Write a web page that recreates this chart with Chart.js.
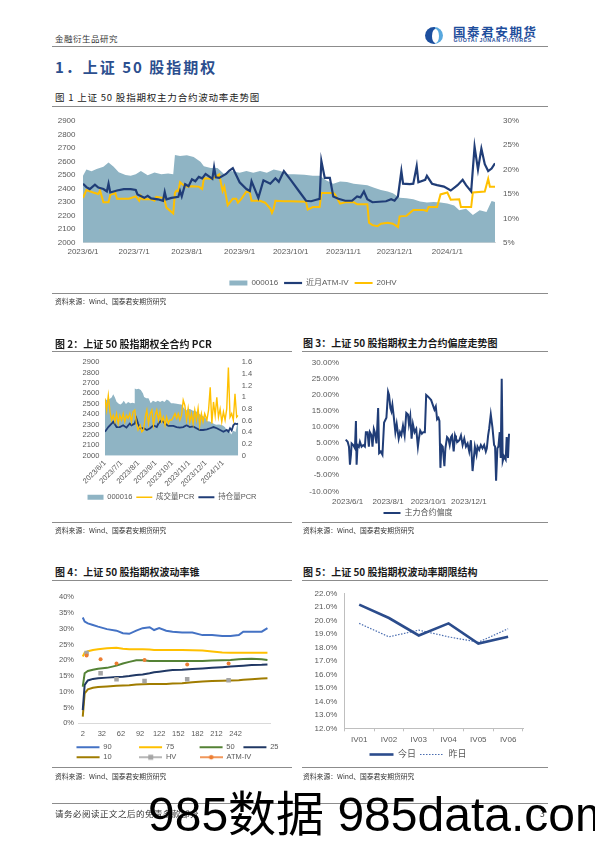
<!DOCTYPE html>
<html lang="zh-CN">
<head>
<meta charset="utf-8">
<title>上证50股指期权</title>
<script src="https://cdn.jsdelivr.net/npm/chart.js@4.4.1/dist/chart.umd.min.js"></script>
<style>
  html, body { margin: 0; padding: 0; background: #fff; }
  body { width: 595px; height: 842px; position: relative; overflow: hidden; font-family: "Noto Sans CJK SC", "Liberation Sans", sans-serif; color: #222; }
  .t { position: absolute; white-space: nowrap; line-height: 1; }
  .rule { position: absolute; height: 0; border-top: 1.4px solid #8c8c8c; }
  .cap { font-size: 10px; font-weight: 700; color: #1a1a1a; }
  .src { font-size: 6.8px; color: #333; }
  canvas { position: absolute; }
  .ic { position: absolute; left: 425px; top: 27px; width: 18px; height: 17px; border-radius: 50%; overflow: hidden;
        background: linear-gradient(90deg, #1d4f9e 0 55%, #58a8de 55% 100%); }
  .ic::after { content: ''; position: absolute; left: 6.5px; top: 1.5px; width: 7px; height: 14px; border-radius: 50%; background: #fff; }
</style>
</head>
<body>

<!-- page header -->
<div class="t" style="left:55px;top:33.7px;font-size:8.5px;color:#333;letter-spacing:.5px">金融衍生品研究</div>
<div class="ic"></div>
<div class="t" style="left:453px;top:25.5px;font-size:12.5px;font-weight:700;color:#1f4e9c;letter-spacing:1.6px">国泰君安期货</div>
<div class="t" style="left:453.5px;top:37.5px;font-size:5.3px;font-weight:700;color:#1f4e9c;letter-spacing:.6px;font-family:'Liberation Sans'">GUOTAI JUNAN FUTURES</div>
<div class="rule" style="left:52px;top:46px;width:496px"></div>
<div class="t" style="left:55px;top:58.5px;font-size:15px;font-weight:700;color:#2c4f8f;letter-spacing:2px">1．上证 50 股指期权</div>

<!-- figure 1 -->
<div class="t" style="left:55px;top:93.2px;font-size:9.5px;letter-spacing:.8px">图 1 上证 50 股指期权主力合约波动率走势图</div>
<div class="rule" style="left:52px;top:105.5px;width:496px"></div>
<canvas id="c1" width="522" height="189" style="left:52px;top:108px"></canvas>
<div class="rule" style="left:52px;top:292.5px;width:496px"></div>
<div class="t src" style="left:55px;top:297.6px">资料来源：Wind、国泰君安期货研究</div>

<!-- figures 2 and 3 -->
<div class="t cap" style="left:55px;top:339px">图 2：上证 50 股指期权全合约 PCR</div>
<div class="t cap" style="left:303px;top:338px">图 3：上证 50 股指期权主力合约偏度走势图</div>
<div class="rule" style="left:52px;top:350.5px;width:240px"></div>
<div class="rule" style="left:302px;top:350.5px;width:246px"></div>
<canvas id="c2" width="240" height="159" style="left:52px;top:352px"></canvas>
<canvas id="c3" width="246" height="175" style="left:302px;top:352px"></canvas>
<div class="rule" style="left:52px;top:521.5px;width:240px"></div>
<div class="rule" style="left:302px;top:521.5px;width:246px"></div>
<div class="t src" style="left:55px;top:526.6px">资料来源：Wind、国泰君安期货研究</div>
<div class="t src" style="left:303px;top:526.6px">资料来源：Wind、国泰君安期货研究</div>

<!-- figures 4 and 5 -->
<div class="t cap" style="left:55px;top:567px">图 4：上证 50 股指期权波动率锥</div>
<div class="t cap" style="left:303px;top:567px">图 5：上证 50 股指期权波动率期限结构</div>
<div class="rule" style="left:52px;top:580px;width:240px"></div>
<div class="rule" style="left:302px;top:580px;width:246px"></div>
<canvas id="c4" width="251" height="189" style="left:52px;top:582px"></canvas>
<canvas id="c5" width="246" height="187" style="left:302px;top:582px"></canvas>
<div class="rule" style="left:52px;top:766.5px;width:240px"></div>
<div class="rule" style="left:302px;top:766.5px;width:246px"></div>
<div class="t src" style="left:55px;top:772.6px">资料来源：Wind、国泰君安期货研究</div>
<div class="t src" style="left:303px;top:772.6px">资料来源：Wind、国泰君安期货研究</div>

<!-- footer -->
<div class="rule" style="left:52px;top:802.5px;width:496px"></div>
<div class="t" style="left:55px;top:808.5px;font-size:8.5px;color:#333;letter-spacing:.5px">请务必阅读正文之后的免责条款部分</div>
<div class="t" style="left:540px;top:808.5px;font-size:8.5px;color:#333">3</div>
<div class="t" style="left:148px;top:791px;font-size:48px;color:#000;font-family:'Liberation Sans','Noto Sans CJK SC',sans-serif">985数据 985data.com</div>

<script>
// day offsets are counted from 2023-06-01
const monthDays = [0, 30, 61, 92, 122, 153, 183, 214];
const monthLabels = ['2023/6/1', '2023/7/1', '2023/8/1', '2023/9/1', '2023/10/1', '2023/11/1', '2023/12/1', '2024/1/1'];

// 000016 index (fig 1 and fig 2)
const idxDays = [0, 2, 5, 8, 12, 15, 18, 21, 25, 28, 31, 34, 38, 42, 46, 50, 53, 54, 57, 61, 65, 69, 71, 75, 79, 83, 87, 92, 96, 100,
  104, 108, 112, 116, 120, 124, 130, 135, 139, 143, 147, 151, 155, 159, 163, 167, 171, 175, 179, 182, 186, 190, 194, 198, 202, 206,
  210, 214, 218, 221, 225, 229, 233, 237, 240, 242];
const idxVals = [2494, 2540, 2528, 2545, 2560, 2592, 2560, 2520, 2500, 2494, 2506, 2530, 2498, 2518, 2506, 2510, 2505, 2648, 2640, 2645,
  2632, 2598, 2564, 2552, 2552, 2506, 2529, 2517, 2529, 2517, 2529, 2517, 2540, 2529, 2506, 2506, 2501, 2495, 2494, 2460,
  2436, 2452, 2448, 2436, 2430, 2424, 2405, 2390, 2378, 2366, 2332, 2328, 2320, 2305, 2297, 2300, 2297, 2290, 2274, 2239,
  2250, 2204, 2239, 2227, 2308, 2301];

// near-month ATM implied vol (%)
const ivDays = [0, 2, 4, 7, 9, 12, 14, 15, 16, 20, 24, 28, 31, 32, 36, 38, 40, 44, 47, 48, 49, 52, 56, 57, 58, 60, 62, 64, 66, 68,
  70, 72, 74, 76, 77, 78, 80, 84, 86, 88, 92, 96, 98, 99, 103, 106, 110, 113, 115, 118, 122, 127, 131, 134, 137, 139, 140, 142, 145, 147,
  150, 154, 158, 161, 163, 165, 167, 170, 174, 178, 181, 183, 185, 187, 188, 192, 194, 196, 197, 201, 202, 205, 208, 212, 216, 220,
  223, 225, 228, 230, 232, 234, 236, 238, 240, 242];
const ivVals = [17.1, 16.4, 16.0, 16.9, 16.3, 16.0, 15.5, 17.1, 15.3, 15.7, 16.0, 16.0, 15.8, 14.9, 14.2, 14.6, 14.1, 13.9, 13.6, 15.4,
  13.9, 14.2, 14.4, 15.6, 14.5, 17.0, 16.6, 18.0, 17.6, 18.5, 18.2, 19.1, 18.6, 18.1, 20.5, 18.4, 18.3, 19.1, 19.8, 20.3,
  17.4, 16.0, 15.6, 17.6, 14.2, 17.8, 17.1, 18.2, 17.5, 19.7, 17.9, 15.5, 13.6, 13.5, 13.8, 14.0, 21.8, 18.3, 18.3, 14.5,
  14.0, 13.6, 13.6, 14.5, 14.3, 15.5, 13.9, 13.3, 13.4, 13.5, 13.9, 13.6, 14.5, 19.7, 17.1, 17.0, 17.1, 20.7, 17.4, 17.9,
  18.7, 17.1, 16.8, 16.5, 15.7, 16.8, 17.9, 16.8, 15.5, 24.7, 20.0, 24.3, 21.1, 19.7, 20.2, 21.3];

// 20-day historical vol (%)
const hvDays = [0, 2, 6, 9, 10, 11, 12, 15, 16, 19, 20, 27, 31, 33, 34, 35, 40, 42, 43, 47, 48, 49, 52, 53, 54, 55, 56, 57, 59, 61,
  64, 68, 70, 71, 75, 77, 80, 82, 83, 85, 88, 90, 91, 93, 96, 98, 99, 104, 107, 110, 111, 112, 113, 118, 122, 131, 132, 135, 139, 140,
  147, 148, 151, 154, 159, 161, 167, 168, 170, 173, 175, 179, 182, 185, 186, 190, 194, 200, 202, 203, 208, 210, 214, 216, 221, 222,
  228, 229, 236, 238, 239, 242];
const hvVals = [14.2, 15.8, 15.3, 15.0, 15.7, 14.5, 13.3, 13.3, 14.8, 15.2, 14.0, 14.0, 14.5, 13.6, 14.6, 13.9, 13.9, 13.6, 14.4, 14.2,
  13.6, 12.2, 11.3, 11.0, 15.2, 15.7, 15.5, 17.4, 16.8, 16.5, 16.6, 16.5, 16.0, 18.2, 18.1, 18.3, 19.0, 15.6, 16.5, 12.7,
  14.0, 14.0, 13.2, 14.0, 15.5, 15.3, 13.6, 13.6, 13.2, 12.0, 11.1, 11.9, 13.6, 13.5, 13.5, 13.4, 11.8, 12.3, 12.3, 15.2,
  15.2, 14.9, 13.0, 13.3, 13.3, 12.9, 12.9, 9.1, 8.6, 8.4, 8.9, 9.1, 8.9, 8.2, 10.4, 10.5, 11.7, 11.7, 11.5, 12.3,
  12.3, 14.9, 15.3, 13.8, 13.9, 12.3, 12.3, 15.3, 15.5, 18.1, 16.5, 16.5];

// put/call ratios (fig 2)
const pcrVolDays = [0, 3, 6, 9, 12, 15, 18, 21, 24, 27, 30, 33, 36, 39, 42, 45, 48, 51, 54, 57, 60, 64, 67, 70, 73, 76, 79, 82, 85, 88,
  91, 94, 97, 100, 103, 106, 109, 112, 115, 118, 121, 124, 127, 130, 133, 136, 139, 142, 145, 148, 151, 154, 157, 160, 163, 166, 169,
  172, 175, 178, 181, 185, 188, 191, 194, 197, 200, 203, 206, 209, 212, 215, 218, 221, 224, 227, 230, 233, 236, 239, 242];
const pcrVolVals = [0.98, 0.78, 1.03, 0.75, 0.61, 0.69, 0.58, 0.72, 0.55, 0.69, 0.61, 0.72, 0.58, 0.69, 0.64, 0.72, 0.58, 0.75, 0.78, 0.55,
  0.44, 0.52, 0.41, 0.44, 0.66, 0.78, 0.55, 0.72, 0.78, 0.52, 0.69, 0.78, 0.61, 0.75, 0.58, 0.66, 0.52, 0.66, 0.55, 0.61,
  0.61, 0.66, 0.72, 0.64, 0.72, 0.61, 0.69, 0.95, 0.86, 0.61, 0.81, 0.58, 0.72, 0.55, 0.78, 0.61, 0.81, 0.52, 0.72, 0.58,
  0.72, 0.61, 0.78, 1.17, 0.55, 0.92, 0.69, 1.00, 0.66, 0.80, 0.58, 0.75, 0.61, 0.80, 1.51, 0.66, 0.72, 0.61, 1.06, 0.66, 0.69];
const pcrOiDays = [0, 6, 12, 15, 21, 27, 33, 39, 45, 48, 54, 57, 60, 64, 70, 76, 82, 88, 94, 97, 103, 109, 115, 124, 130, 136, 142, 148,
  154, 160, 166, 172, 178, 185, 191, 197, 203, 209, 215, 221, 224, 227, 230, 233, 236, 239, 242];
const pcrOiVals = [0.41, 0.49, 0.55, 0.58, 0.49, 0.49, 0.52, 0.48, 0.55, 0.52, 0.55, 0.64, 0.55, 0.47, 0.47, 0.44, 0.47, 0.52, 0.49, 0.55,
  0.61, 0.55, 0.51, 0.51, 0.49, 0.48, 0.49, 0.52, 0.49, 0.50, 0.47, 0.44, 0.44, 0.45, 0.47, 0.49, 0.47, 0.44, 0.41, 0.44,
  0.41, 0.47, 0.43, 0.52, 0.55, 0.54, 0.55];

// main contract skew (fig 3, %)
const skewTickDays = [0, 61, 122, 183];
const skewTickLabels = ['2023/6/1', '2023/8/1', '2023/10/1', '2023/12/1'];
const skewDays = [-3, 0, 2, 3.5, 5, 6, 8.5, 11, 12.5, 13.5, 15, 17, 18.5, 21, 23.5, 26, 27.5, 30, 32, 33.5, 36, 37.5, 39.5, 41, 43.5,
  46, 47.5, 50, 52.5, 55, 58.5, 61, 62.5, 64.5, 66, 67.5, 69.5, 72, 74, 77, 79, 81, 83.5, 86, 88.5, 91, 92.5, 94.5, 96.5, 98.5,
  101, 103.5, 106, 107.5, 109.5, 112, 114, 116.5, 118.5, 121, 123.5, 126, 128.5, 131, 133, 135, 137, 138.5, 140, 141.5,
  143.5, 146, 147.5, 150, 152, 154, 156, 157.5, 160, 162, 163.5, 166, 168.5, 171, 173.5, 176, 178.5, 181, 183.5, 186,
  188.5, 190, 192, 194.5, 196, 198.5, 201, 203.5, 206, 208.5, 210, 212, 213.5, 216, 218.5, 221, 222.5, 224, 226, 227.5,
  229.5, 231, 232.5, 234, 236, 238.5, 240, 242, 243.5];
const skewVals = [6.1, 5.4, 3.9, -1.7, 1.4, 4.9, 4.4, 3.4, 11.9, -1.7, 4.4, 3.9, 5.4, 3.9, 4.4, 3.9, 8.4, 8.4, 3.9, 8.4,
  7.4, 3.9, 9.4, 8.4, 4.9, 15.9, 1.9, 2.4, 1.4, 11.4, 12.9, 21.0, 20.0, 15.9, 14.9, 16.9, 13.4, 8.4, 11.0, 6.4,
  8.4, 7.4, 10.4, 7.4, 14.4, 13.9, 10.9, 13.4, 6.4, 10.9, 8.4, 9.4, 3.9, 6.4, 8.9, 7.9, 8.4, 8.4, 20.0, 19.5,
  19.0, 18.4, 16.9, 15.4, 16.4, 12.4, 12.9, 11.9, -2.7, 4.4, 3.9, -2.2, 3.4, 6.9, 6.4, 4.4, 6.9, 7.4, 2.4, 7.4,
  6.4, 5.4, 5.9, 7.4, 4.4, 6.4, 3.9, 4.9, 2.4, 5.9, -3.7, -0.6, 3.9, 1.4, 3.9, 2.9, 4.4, 3.4, 4.4, 2.4,
  3.4, 7.4, 9.4, 13.9, 9.9, 4.4, 3.9, -6.7, 3.4, 3.9, 8.4, 0.4, 25.0, -0.6, 0.9, -0.1, 6.9, 0.4, 7.9];

// volatility cone (fig 4, %), x = trading days to expiry
const coneTicks = [2, 32, 62, 92, 122, 152, 182, 212, 242];
const coneX = [2, 5, 10, 18, 26, 40, 55, 65, 75, 86, 96, 107, 114, 122, 133, 143, 158, 174, 190, 205, 221, 234, 247, 254, 267, 283, 292];
const cone90 = [33.6, 32.3, 31.7, 31.2, 30.7, 29.9, 29.4, 28.6, 28.4, 29.4, 30.2, 30.5, 29.6, 30.2, 29.4, 29.1, 28.8, 28.8, 28.0, 28.0, 27.7, 27.7, 28.0, 29.1, 29.1, 29.1, 30.2];
const cone75 = [21.2, 22.4, 22.9, 23.3, 23.5, 23.8, 24.0, 23.7, 23.5, 23.5, 23.5, 23.4, 23.3, 23.3, 23.3, 23.3, 23.3, 23.2, 23.1, 22.8, 22.5, 22.4, 22.4, 22.4, 22.4, 22.4, 22.4];
const cone50 = [11.6, 15.9, 16.6, 17.0, 17.3, 17.6, 18.3, 19.0, 19.5, 20.0, 20.0, 19.8, 19.8, 19.8, 19.8, 19.8, 19.8, 19.8, 19.8, 19.9, 20.0, 20.1, 20.3, 20.4, 20.5, 20.3, 20.1];
const cone25 = [4.2, 12.2, 13.6, 14.1, 14.3, 14.5, 14.7, 14.8, 15.0, 15.3, 15.5, 15.9, 16.2, 16.4, 16.7, 16.9, 17.0, 17.2, 17.4, 17.6, 17.8, 18.0, 18.2, 18.3, 18.5, 18.6, 18.7];
const cone10 = [2.1, 9.5, 10.8, 11.3, 11.5, 11.7, 11.9, 12.0, 12.1, 12.3, 12.4, 12.5, 12.5, 12.5, 12.5, 12.6, 12.7, 13.0, 13.3, 13.4, 13.5, 13.6, 13.7, 13.8, 14.0, 14.2, 14.3];
const coneObsX = [8, 30, 55, 99, 166, 231];
const coneHV = [22.3, 15.9, 14.0, 13.4, 14.0, 13.7];
const coneATM = [21.5, 20.3, 19.0, 20.1, 18.7, 19.0];

// term structure (fig 5, %)
const termLabels = ['IV01', 'IV02', 'IV03', 'IV04', 'IV05', 'IV06'];
const termToday = [21.2, 20.2, 18.9, 19.8, 18.3, 18.8];
const termYday = [19.8, 18.8, 19.3, 18.8, 18.4, 19.4];

Chart.defaults.font.family = "'Liberation Sans', 'Noto Sans CJK SC', sans-serif";
Chart.defaults.font.size = 8;
Chart.defaults.color = '#595959';
Chart.defaults.animation = false;
Chart.defaults.responsive = false;
Chart.defaults.plugins.tooltip.enabled = false;
Chart.defaults.elements.point.radius = 0;
Chart.defaults.elements.line.tension = 0;

const NAVY = '#203d77';
const GOLD = '#ffc000';
const AREA = '#8fb4c4';

const pts = (xs, ys) => xs.map((x, i) => ({ x: x, y: ys[i] }));
const setW = w => s => { s.width = w; };
const setH = h => s => { s.height = h; };
const off = { display: false, drawTicks: false };
const plain = v => String(v);
const fixedTicks = vals => s => { s.ticks = vals.map(v => ({ value: v })); };
const hiddenAxis = w => ({ position: 'right', display: true, ticks: { display: false }, grid: off, border: { display: false }, afterFit: setW(w) });

// legend icon: short line with a marker in the middle
function icon(color, shape) {
  const c = document.createElement('canvas');
  c.width = 23; c.height = 8;
  const g = c.getContext('2d');
  g.strokeStyle = color; g.lineWidth = 1.6;
  g.beginPath(); g.moveTo(0, 4); g.lineTo(23, 4); g.stroke();
  g.fillStyle = color;
  if (shape === 'rect') g.fillRect(9, 1.5, 5, 5);
  else { g.beginPath(); g.arc(11.5, 4, 2.3, 0, Math.PI * 2); g.fill(); }
  return c;
}

function legendItems(ch) {
  return Chart.defaults.plugins.legend.labels.generateLabels(ch).map(l => {
    const ds = ch.data.datasets[l.datasetIndex];
    if (!ds.fill) { l.lineWidth = ds.borderWidth; l.strokeStyle = ds.borderColor; }
    l.lineDash = ds.borderDash || [];
    if (ds.legendText) l.text = ds.legendText;
    if (ds.legendIcon) l.pointStyle = ds.legendIcon;
    l.fontColor = '#595959';
    return l;
  }).sort((a, b) => a.datasetIndex - b.datasetIndex);
}

const legendOpts = (size, pad, w) => ({
  position: 'bottom',
  labels: { usePointStyle: true, pointStyleWidth: w, boxHeight: 5, padding: pad, font: { size: size }, generateLabels: legendItems }
});

// fig 1 (canvas runs past the page margin so the legend centre sits where the original has it)
new Chart(document.getElementById('c1'), {
  type: 'line',
  data: {
    datasets: [
      { label: '000016', data: pts(idxDays, idxVals), yAxisID: 'y', fill: 'start', backgroundColor: AREA, borderColor: 'rgba(0,0,0,0)', borderWidth: 0, pointStyle: 'rect' },
      { label: '近月ATM-IV', data: pts(ivDays, ivVals), yAxisID: 'y1', borderColor: NAVY, borderWidth: 2.2, pointStyle: 'line' },
      { label: '20HV', data: pts(hvDays, hvVals), yAxisID: 'y1', borderColor: GOLD, borderWidth: 2, pointStyle: 'line' }
    ]
  },
  options: {
    responsive: false,
    layout: { padding: { top: 5.3 } },
    scales: {
      x: { type: 'linear', min: 0, max: 242, afterBuildTicks: fixedTicks(monthDays),
           ticks: { callback: (v, i) => monthLabels[i], maxRotation: 0, autoSkip: false, padding: 4 },
           grid: off, border: { color: '#d9d9d9' }, afterFit: setH(30.3) },
      y: { min: 2000, max: 2900, ticks: { stepSize: 100, padding: 7.5, autoSkip: false, callback: plain }, grid: off, border: { display: false }, afterFit: setW(31) },
      y1: { position: 'right', min: 5, max: 30, ticks: { stepSize: 5, padding: 8, autoSkip: false, callback: v => v + '%' },
            grid: off, border: { display: false }, afterFit: setW(79) }
    },
    plugins: { legend: legendOpts(8, 6, 18), filler: { drawTime: 'beforeDatasetsDraw' } }
  }
});

// fig 2
new Chart(document.getElementById('c2'), {
  type: 'line',
  data: {
    datasets: [
      { label: '000016', data: pts(idxDays, idxVals), yAxisID: 'y', fill: 'start', backgroundColor: AREA, borderColor: 'rgba(0,0,0,0)', borderWidth: 0, pointStyle: 'rect' },
      { label: '成交量PCR', data: pts(pcrVolDays, pcrVolVals), yAxisID: 'y1', borderColor: GOLD, borderWidth: 1.4, pointStyle: 'line' },
      { label: '持仓量PCR', data: pts(pcrOiDays, pcrOiVals), yAxisID: 'y1', borderColor: NAVY, borderWidth: 1.8, pointStyle: 'line' }
    ]
  },
  options: {
    responsive: false,
    layout: { padding: { top: 9.7 } },
    scales: {
      x: { type: 'linear', min: 0, max: 242, afterBuildTicks: fixedTicks(monthDays),
           ticks: { callback: (v, i) => monthLabels[i], minRotation: 45, maxRotation: 45, autoSkip: false, padding: 3, font: { size: 7.5 } },
           grid: off, border: { display: false }, afterFit: setH(33.8) },
      y: { min: 2000, max: 2900, ticks: { stepSize: 100, padding: 5.7, autoSkip: false, font: { size: 7.5 }, callback: plain },
           grid: off, border: { display: false }, afterFit: setW(53) },
      y1: { position: 'right', min: 0, max: 1.6, ticks: { stepSize: 0.2, padding: 3.4, autoSkip: false, font: { size: 7.5 }, callback: v => String(+v.toFixed(1)) },
            grid: off, border: { display: false }, afterFit: setW(53.7) }
    },
    plugins: { legend: legendOpts(7.5, 4, 16), filler: { drawTime: 'beforeDatasetsDraw' } }
  }
});

// fig 3
new Chart(document.getElementById('c3'), {
  type: 'line',
  data: { datasets: [ { label: '主力合约偏度', data: pts(skewDays, skewVals), borderColor: NAVY, borderWidth: 2, pointStyle: 'line' } ] },
  options: {
    responsive: false,
    layout: { padding: { top: 6.3, right: 14 } },
    scales: {
      x: { type: 'linear', min: -4, max: 245, afterBuildTicks: fixedTicks(skewTickDays),
           ticks: { callback: (v, i) => skewTickLabels[i], maxRotation: 0, autoSkip: false, padding: 6 },
           grid: off, border: { display: false }, afterFit: setH(13.7) },
      y: { min: -10, max: 30, ticks: { stepSize: 5, padding: 6, autoSkip: false, callback: v => v.toFixed(2) + '%' },
           grid: off, border: { display: false }, afterFit: setW(43) },
      yR: hiddenAxis(24)
    },
    plugins: { legend: legendOpts(8, 4, 17) }
  }
});

// fig 4 (labels padded with spaces so both legend rows line up like the original)
const coneLine = (label, ys, color, spaces) => ({
  label: label, data: pts(coneX, ys), borderColor: color, borderWidth: 2, pointStyle: 'line', legendText: label + ' '.repeat(spaces)
});
new Chart(document.getElementById('c4'), {
  type: 'line',
  data: {
    datasets: [
      coneLine('90', cone90, '#4472c4', 12),
      coneLine('75', cone75, '#ffc000', 11),
      coneLine('50', cone50, '#548235', 3),
      coneLine('25', cone25, '#203864', 0),
      coneLine('10', cone10, '#a07c00', 12),
      { label: 'HV', data: pts(coneObsX, coneHV), showLine: false, pointStyle: 'rect', pointRadius: 3.2, backgroundColor: '#a5a5a5',
        borderColor: '#a5a5a5', borderWidth: 0, order: -1, legendText: 'HV' + ' '.repeat(10), legendIcon: icon('#a5a5a5', 'rect') },
      { label: 'ATM-IV', data: pts(coneObsX, coneATM), showLine: false, pointStyle: 'circle', pointRadius: 2, backgroundColor: '#ed7d31',
        borderColor: '#ed7d31', borderWidth: 0, order: -2, legendText: 'ATM-IV' + ' '.repeat(13), legendIcon: icon('#ed7d31', 'circle') }
    ]
  },
  options: {
    responsive: false,
    layout: { padding: { top: 15.3 } },
    scales: {
      x: { type: 'linear', min: -5, max: 296, afterBuildTicks: fixedTicks(coneTicks),
           ticks: { maxRotation: 0, autoSkip: false, padding: 6, font: { size: 7.5 }, callback: plain },
           grid: off, border: { color: '#d9d9d9' }, afterFit: setH(17.7) },
      y: { min: 0, max: 40, ticks: { stepSize: 5, padding: 4.3, autoSkip: false, font: { size: 7.5 }, callback: v => v + '%' },
           grid: off, border: { display: false }, afterFit: setW(26.3) },
      yR: hiddenAxis(33)
    },
    plugins: { legend: legendOpts(7.5, 2.5, 23) }
  }
});

// fig 5
new Chart(document.getElementById('c5'), {
  type: 'line',
  data: {
    labels: termLabels,
    datasets: [
      { label: '今日', data: termToday, borderColor: '#2b4c8c', borderWidth: 2.6, pointStyle: 'line' },
      { label: '昨日', data: termYday, borderColor: '#4a6db0', borderWidth: 1.2, borderDash: [1.5, 1.5], pointStyle: 'line' }
    ]
  },
  options: {
    responsive: false,
    layout: { padding: { top: 10.7, right: 14 } },
    scales: {
      x: { offset: true, grid: { display: true, drawOnChartArea: false, drawTicks: true, tickLength: 3, offset: true, color: '#bfbfbf' },
           border: { color: '#bfbfbf' }, ticks: { padding: 4 }, afterFit: setH(17.7) },
      y: { min: 12, max: 22, ticks: { stepSize: 1, padding: 7, autoSkip: false, callback: v => v.toFixed(1) + '%' }, grid: off,
           border: { color: '#bfbfbf' }, afterFit: setW(42.3) },
      yR: hiddenAxis(11)
    },
    plugins: { legend: legendOpts(9, 4, 24) }
  }
});
</script>
</body>
</html>
